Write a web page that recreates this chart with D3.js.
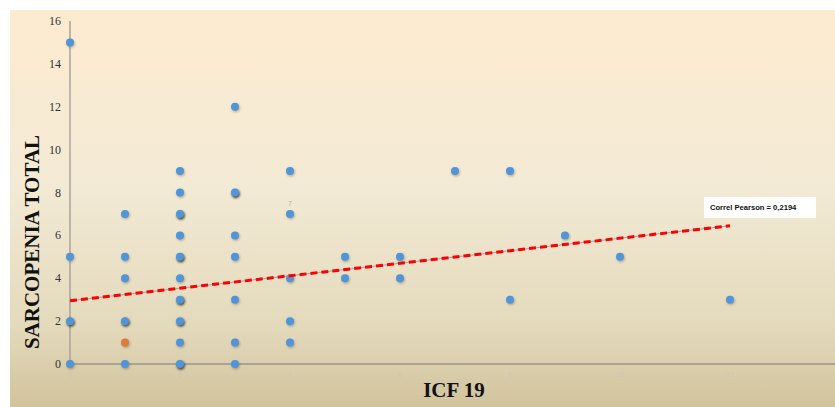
<!DOCTYPE html>
<html>
<head>
<meta charset="utf-8">
<script src="https://cdn.jsdelivr.net/npm/d3@7"></script>
<style>
  body { margin: 0; background: #fff; }
</style>
</head>
<body>
<script>
// ICF 19 vs sarcopenia total
const icf  = [0,0,0,0, 1,1,1,1,1,1, 2,2,2,2,2,2,2,2,2,2, 3,3,3,3,3,3,3, 4,4,4,4,4, 5,5, 6,6, 7, 8,8, 9, 10, 12];
const sarc = [15,5,2,0, 7,5,4,2,1,0, 9,8,7,6,5,4,3,2,1,0, 12,8,6,5,3,1,0, 9,7,4,2,1, 5,4, 5,4, 9, 9,3, 6, 5, 3];
// points drawn more than once (overlapping)
const overlaps = [[0,2],[1,2],[2,3],[2,2],[2,0],[2,5],[3,8],[2,7]];
const highlighted = [[1,1]];
const trendX = [0, 12];
const trendY = [2.95, 6.45];
const yTicks = [0,2,4,6,8,10,12,14,16];
const xTicks = [0,2,4,6,8,10,12];
const annotation = "Correl Pearson = 0,2194";

const w = 835, h = 407;

const svg = d3.select("body").append("svg")
  .attr("width", w)
  .attr("height", h);

const defs = svg.append("defs");
const grad = defs.append("linearGradient")
  .attr("id", "bg").attr("x1", 0).attr("y1", 0).attr("x2", 0).attr("y2", 1);
grad.append("stop").attr("offset", "0%").attr("stop-color", "#fdebd0");
grad.append("stop").attr("offset", "45%").attr("stop-color", "#f3ead5");
grad.append("stop").attr("offset", "80%").attr("stop-color", "#e3d9bb");
grad.append("stop").attr("offset", "100%").attr("stop-color", "#d1c39c");

const blur = defs.append("filter").attr("id", "shadow")
  .attr("x", "-50%").attr("y", "-50%").attr("width", "200%").attr("height", "200%");
blur.append("feGaussianBlur").attr("stdDeviation", 0.8);

svg.append("rect")
  .attr("x", 10).attr("y", 10)
  .attr("width", w - 10).attr("height", h - 10)
  .attr("fill", "url(#bg)");

const xScale = d3.scaleLinear().domain([0, 14]).range([70, 840]);
const yScale = d3.scaleLinear().domain([0, 16]).range([364, 21]);

// axes
svg.append("line")
  .attr("x1", xScale(0)).attr("x2", xScale(0))
  .attr("y1", yScale(16)).attr("y2", yScale(0))
  .attr("stroke", "#a9a39a").attr("stroke-width", 1.5);
svg.append("line")
  .attr("x1", xScale(0)).attr("x2", w)
  .attr("y1", yScale(0)).attr("y2", yScale(0))
  .attr("stroke", "#a9a39a").attr("stroke-width", 2);

svg.selectAll(".ytick").data(yTicks).enter().append("text")
  .attr("class", "ytick")
  .attr("x", 61)
  .attr("y", d => yScale(d) + 4)
  .attr("text-anchor", "end")
  .attr("font-family", "Liberation Serif, serif")
  .attr("font-size", 12)
  .attr("fill", "#333")
  .text(d => d);

svg.selectAll(".xtick").data(xTicks).enter().append("text")
  .attr("class", "xtick")
  .attr("x", d => xScale(d))
  .attr("y", 377)
  .attr("text-anchor", "middle")
  .attr("font-family", "Liberation Sans, sans-serif")
  .attr("font-size", 7)
  .attr("fill", "#cdc6b8")
  .text(d => d);

// titles
svg.append("text")
  .attr("transform", "translate(39,242) rotate(-90)")
  .attr("text-anchor", "middle")
  .attr("font-family", "Liberation Serif, serif")
  .attr("font-weight", "bold")
  .attr("font-size", 21)
  .attr("fill", "#111")
  .text("SARCOPENIA TOTAL");

svg.append("text")
  .attr("x", 454).attr("y", 397)
  .attr("text-anchor", "middle")
  .attr("font-family", "Liberation Serif, serif")
  .attr("font-weight", "bold")
  .attr("font-size", 21)
  .attr("fill", "#111")
  .text("ICF 19");

// points
const pts = icf.map((d, i) => ({x: d, y: sarc[i]}));
const isOver = d => overlaps.some(o => o[0] === d.x && o[1] === d.y);
const isHi = d => highlighted.some(o => o[0] === d.x && o[1] === d.y);

svg.append("g").selectAll("circle").data(pts).enter().append("circle")
  .attr("cx", d => xScale(d.x) + 0.8)
  .attr("cy", d => yScale(d.y) + (isOver(d) ? 1.5 : 1.2))
  .attr("r", 4.2)
  .attr("fill", d => isOver(d) ? "#222" : "#555")
  .attr("opacity", d => isOver(d) ? 0.8 : 0.4)
  .attr("filter", "url(#shadow)");

svg.append("g").selectAll("circle").data(pts).enter().append("circle")
  .attr("cx", d => xScale(d.x))
  .attr("cy", d => yScale(d.y))
  .attr("r", 4)
  .attr("fill", d => isHi(d) ? "#e07b39" : "#5195d9");

// data label
svg.append("text")
  .attr("x", xScale(4)).attr("y", yScale(7) - 8)
  .attr("text-anchor", "middle")
  .attr("font-family", "Liberation Sans, sans-serif")
  .attr("font-size", 7)
  .attr("fill", "#b9b3a8")
  .text(7);

// trend line
const trend = d3.line().x(d => xScale(d[0])).y(d => yScale(d[1]));
const trendPts = trendX.map((d, i) => [d, trendY[i]]);
svg.append("path").datum(trendPts)
  .attr("d", trend)
  .attr("stroke", "#8fa9c6").attr("stroke-width", 1)
  .attr("fill", "none");
svg.append("path").datum(trendPts)
  .attr("d", trend)
  .attr("stroke", "#ff0000").attr("stroke-width", 3)
  .attr("stroke-dasharray", "7,4")
  .attr("fill", "none");

// annotation box
svg.append("rect")
  .attr("x", 704).attr("y", 197)
  .attr("width", 112).attr("height", 21)
  .attr("fill", "#fff");
svg.append("text")
  .attr("x", 710).attr("y", 210)
  .attr("font-family", "Liberation Sans, sans-serif")
  .attr("font-weight", "bold")
  .attr("font-size", 7.6)
  .attr("fill", "#111")
  .text(annotation);
</script>
</body>
</html>
